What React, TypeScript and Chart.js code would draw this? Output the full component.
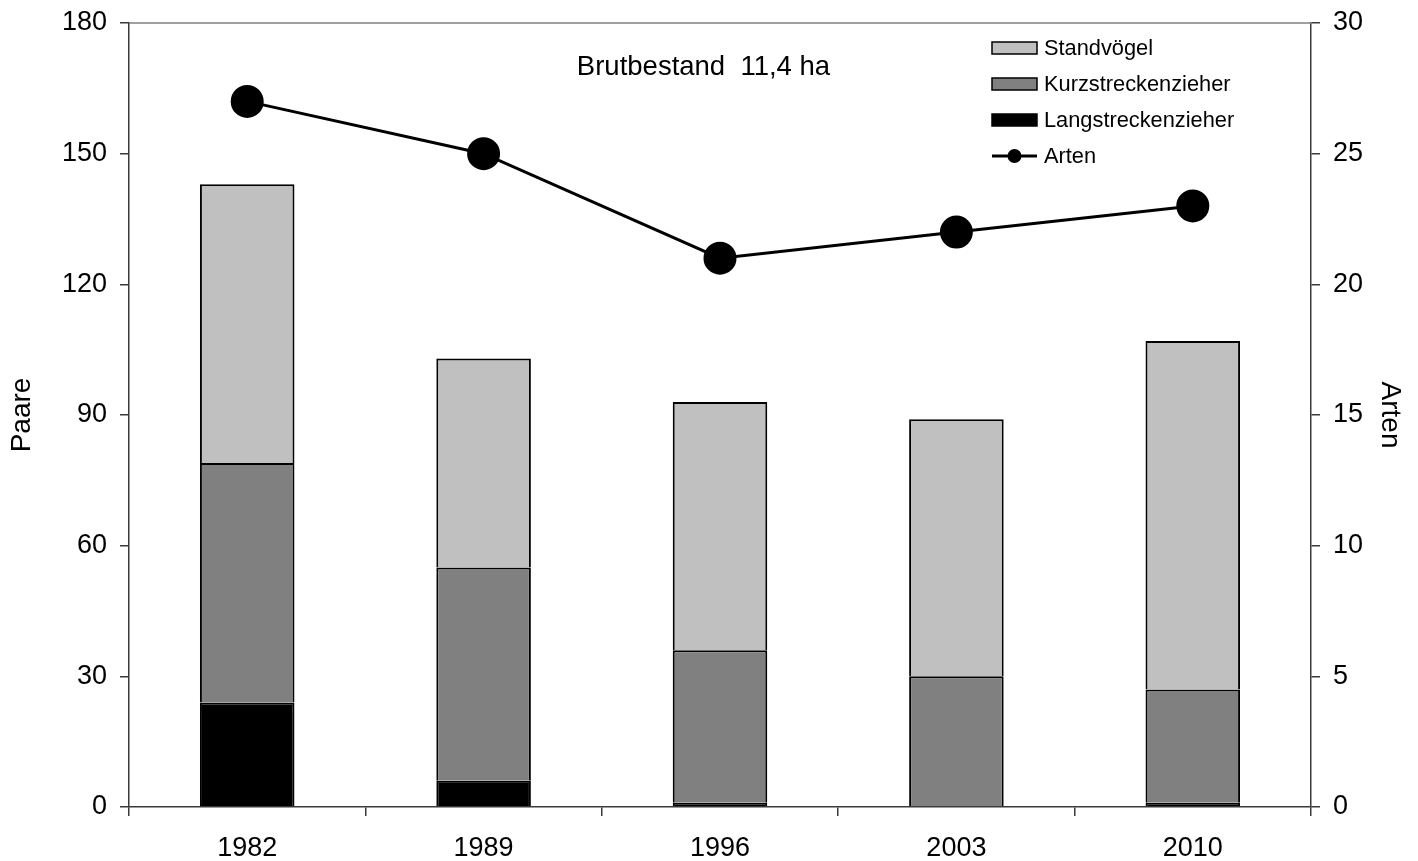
import React, { useEffect, useRef } from "react";
import { Chart, registerables } from "chart.js";

Chart.register(...registerables);

// ---- data ----
const years = ["1982", "1989", "1996", "2003", "2010"];
const standvoegel = [64, 48, 57, 59, 80];
const kurzstreckenzieher = [55, 49, 35, 30, 26];
const langstreckenzieher = [24, 6, 1, 0, 1];
const arten = [27, 25, 21, 22, 23];
const leftAxis = { min: 0, max: 180, step: 30 };
const rightAxis = { min: 0, max: 30, step: 5 };
const titleText = "Brutbestand  11,4 ha";

const FONT = "'Liberation Sans', Arial, sans-serif";
const AXIS_COLOR = "#3a3a3a";

const overlayPlugin = {
  id: "overlay",
  afterDraw(chart: any) {
    const { ctx, chartArea } = chart;
    ctx.save();
    // top frame line
    ctx.strokeStyle = "#808080";
    ctx.lineWidth = 1.5;
    ctx.beginPath();
    ctx.moveTo(chartArea.left, chartArea.top);
    ctx.lineTo(chartArea.right, chartArea.top);
    ctx.stroke();

    // title inside plot
    ctx.fillStyle = "#000";
    ctx.font = `27.5px ${FONT}`;
    ctx.textAlign = "center";
    ctx.textBaseline = "alphabetic";
    ctx.fillText(titleText, 703.5, 75);

    // legend
    const ds = chart.data.datasets;
    const order = [2, 1, 0, 3];
    const boxX = 992;
    const boxW = 45;
    const boxH = 12;
    const textX = 1044;
    const rowY = [48, 84, 120, 156];
    ctx.font = `21.8px ${FONT}`;
    ctx.textAlign = "left";
    ctx.textBaseline = "middle";
    order.forEach((idx, i) => {
      const d = ds[idx];
      const y = rowY[i];
      if (d.type === "line") {
        ctx.strokeStyle = d.borderColor;
        ctx.lineWidth = 3;
        ctx.beginPath();
        ctx.moveTo(boxX, y);
        ctx.lineTo(boxX + boxW, y);
        ctx.stroke();
        ctx.fillStyle = d.pointBackgroundColor;
        ctx.beginPath();
        ctx.arc(boxX + boxW / 2, y, 7, 0, Math.PI * 2);
        ctx.fill();
      } else {
        ctx.fillStyle = d.backgroundColor;
        ctx.fillRect(boxX, y - boxH / 2, boxW, boxH);
        ctx.strokeStyle = "#000";
        ctx.lineWidth = 1.5;
        ctx.strokeRect(boxX, y - boxH / 2, boxW, boxH);
      }
      ctx.fillStyle = "#000";
      ctx.fillText(d.label, textX, y + 1);
    });
    ctx.restore();
  },
};

export default function App() {
  const ref = useRef<HTMLCanvasElement | null>(null);

  useEffect(() => {
    if (!ref.current) return;
    const tickFont = { family: FONT, size: 27 };
    const titleFont = { family: FONT, size: 28 };
    const chart = new Chart(ref.current, {
      type: "bar",
      data: {
        labels: years,
        datasets: [
          {
            type: "bar",
            label: "Langstreckenzieher",
            data: langstreckenzieher,
            backgroundColor: "#000000",
            borderColor: "#000000",
            borderWidth: 2,
            yAxisID: "y",
            order: 1,
            barPercentage: 0.4,
            categoryPercentage: 1,
          },
          {
            type: "bar",
            label: "Kurzstreckenzieher",
            data: kurzstreckenzieher,
            backgroundColor: "#808080",
            borderColor: "#000000",
            borderWidth: 2,
            yAxisID: "y",
            order: 1,
            barPercentage: 0.4,
            categoryPercentage: 1,
          },
          {
            type: "bar",
            label: "Standvögel",
            data: standvoegel,
            backgroundColor: "#c0c0c0",
            borderColor: "#000000",
            borderWidth: 2,
            yAxisID: "y",
            order: 1,
            barPercentage: 0.4,
            categoryPercentage: 1,
          },
          {
            type: "line",
            label: "Arten",
            data: arten,
            borderColor: "#000000",
            borderWidth: 3,
            pointRadius: 15,
            pointBackgroundColor: "#000000",
            pointBorderColor: "#000000",
            yAxisID: "y1",
            order: 0,
            tension: 0,
          },
        ] as any,
      },
      options: {
        responsive: false,
        animation: false,
        layout: { padding: { top: 23, left: 0, right: 0, bottom: 0 } },
        plugins: {
          legend: { display: false },
          tooltip: { enabled: false },
          title: { display: false },
        },
        scales: {
          x: {
            stacked: true,
            offset: true,
            grid: {
              offset: true,
              drawOnChartArea: false,
              drawTicks: true,
              tickLength: 9,
              color: AXIS_COLOR,
              lineWidth: 1.5,
            },
            border: { color: AXIS_COLOR, width: 1.5 },
            ticks: { font: tickFont, color: "#000", padding: 16, maxRotation: 0 },
            afterFit: (s: any) => {
              s.height = 54;
              s.paddingLeft = 0;
              s.paddingRight = 0;
            },
          },
          y: {
            type: "linear",
            position: "left",
            stacked: true,
            min: leftAxis.min,
            max: leftAxis.max,
            ticks: { stepSize: leftAxis.step, font: tickFont, color: "#000", padding: 13 },
            grid: {
              drawOnChartArea: false,
              drawTicks: true,
              tickLength: 9,
              color: AXIS_COLOR,
              lineWidth: 1.5,
            },
            border: { color: AXIS_COLOR, width: 1.5 },
            title: {
              display: true,
              text: "Paare",
              font: titleFont,
              color: "#000",
              padding: { top: 5, bottom: 0 },
            },
            afterFit: (s: any) => {
              s.width = 129;
              s.paddingTop = 0;
              s.paddingBottom = 0;
            },
          },
          y1: {
            type: "linear",
            position: "right",
            min: rightAxis.min,
            max: rightAxis.max,
            ticks: { stepSize: rightAxis.step, font: tickFont, color: "#000", padding: 13 },
            grid: {
              drawOnChartArea: false,
              drawTicks: true,
              tickLength: 9,
              color: AXIS_COLOR,
              lineWidth: 1.5,
            },
            border: { color: AXIS_COLOR, width: 1.5 },
            title: {
              display: true,
              text: "Arten",
              font: titleFont,
              color: "#000",
              padding: { top: 11, bottom: 0 },
            },
            afterFit: (s: any) => {
              s.width = 107;
              s.paddingTop = 0;
              s.paddingBottom = 0;
            },
          },
        },
      } as any,
      plugins: [overlayPlugin],
    });
    return () => chart.destroy();
  }, []);

  return (
    <div style={{ position: "absolute", left: 0, top: 0, width: 1418, height: 861 }}>
      <canvas ref={ref} width={1418} height={861} style={{ display: "block" }} />
    </div>
  );
}
